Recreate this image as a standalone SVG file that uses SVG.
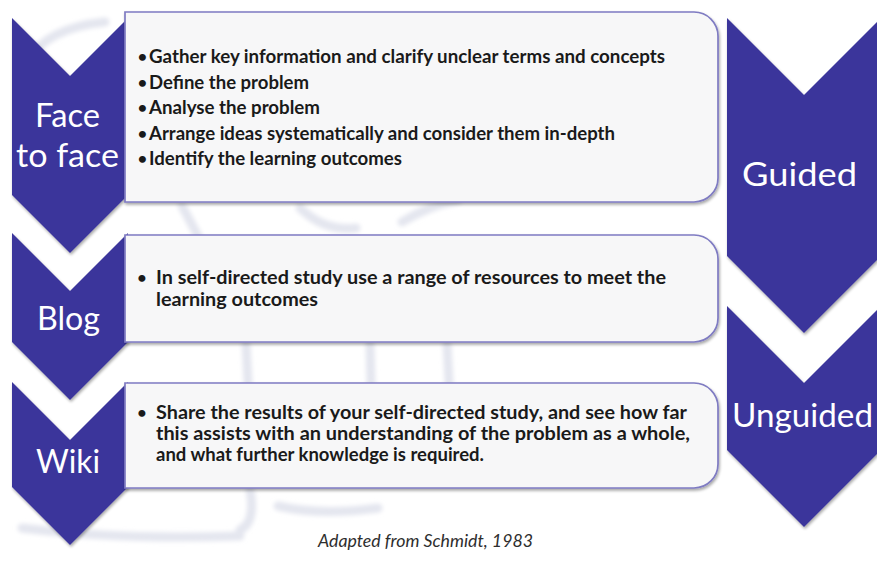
<svg xmlns="http://www.w3.org/2000/svg" width="877" height="561" viewBox="0 0 877 561">
  <defs>
    <filter id="shadow" x="-10%" y="-10%" width="125%" height="130%">
      <feGaussianBlur in="SourceAlpha" stdDeviation="1.6"/>
      <feOffset dx="0.5" dy="2" result="b"/>
      <feComponentTransfer><feFuncA type="linear" slope="0.35"/></feComponentTransfer>
      <feMerge><feMergeNode/><feMergeNode in="SourceGraphic"/></feMerge>
    </filter>
    <filter id="soft" x="-20%" y="-20%" width="140%" height="140%">
      <feGaussianBlur stdDeviation="2"/>
    </filter>
  </defs>
  <style>
    .chev { fill: #3a359b; }
    .box { fill: #f7f7f8; stroke: #7f7bc2; stroke-width: 1.7; }
    .label { font-family: Lato, "Liberation Sans", sans-serif; font-size: 32px; fill: #ffffff; }
    .item { font-family: Lato, "Liberation Sans", sans-serif; font-weight: 700; font-size: 18.5px; fill: #1a1a1a; }
    .dot { font-family: Lato, "Liberation Sans", sans-serif; font-weight: 700; font-size: 16px; fill: #1a1a1a; text-anchor: middle; }
    .caption { font-family: Lato, "Liberation Sans", sans-serif; font-style: italic; font-size: 16.5px; fill: #2e2e2e; }
    .mark { fill: none; stroke: #e4e6ef; stroke-width: 9; stroke-linecap: round; }
  </style>

  <rect width="877" height="561" fill="#ffffff"/>

  <!-- faint background emblem -->
  <g id="watermark" filter="url(#soft)">
    <path class="mark" d="M28,62 Q45,28 105,22"/>
    <path class="mark" d="M182,206 L198,236"/>
    <path class="mark" d="M300,208 Q325,232 356,228"/>
    <path class="mark" d="M402,222 Q430,205 458,200"/>
    <path class="mark" d="M246,344 L248,382"/>
    <path class="mark" d="M370,344 L371,382"/>
    <path class="mark" d="M447,344 L449,382"/>
    <path class="mark" d="M250,490 Q256,522 240,530"/>
    <path class="mark" d="M278,506 Q320,516 378,508"/>
    <path class="mark" d="M22,528 Q120,540 240,536"/>
  </g>

  <!-- left column: stage chevrons -->
  <g id="face-to-face">
    <path class="chev" filter="url(#shadow)" d="M12,18 L70,76 L128,18 L128,195 L70,253 L12,195 Z"/>
    <text class="label" x="35" y="127" textLength="65" lengthAdjust="spacingAndGlyphs">Face</text>
    <text class="label" x="16" y="167" textLength="103" lengthAdjust="spacingAndGlyphs">to face</text>
  </g>
  <g id="blog">
    <path class="chev" filter="url(#shadow)" d="M12,233 L70,291 L128,233 L128,342 L70,400 L12,342 Z"/>
    <text class="label" x="37" y="330" textLength="63" lengthAdjust="spacingAndGlyphs">Blog</text>
  </g>
  <g id="wiki">
    <path class="chev" filter="url(#shadow)" d="M12,382 L70,440 L128,382 L128,487 L70,545 L12,487 Z"/>
    <text class="label" x="36" y="473" textLength="64" lengthAdjust="spacingAndGlyphs">Wiki</text>
  </g>

  <!-- middle column: activity boxes -->
  <g id="box-face-to-face">
    <path class="box" filter="url(#shadow)" d="M125,12 H694 A24,24 0 0 1 718,36 V178 A24,24 0 0 1 694,202 H125 Z"/>
    <text class="dot" x="142.5" y="62">•</text>
    <text class="dot" x="142.5" y="87.5">•</text>
    <text class="dot" x="142.5" y="113">•</text>
    <text class="dot" x="142.5" y="138.5">•</text>
    <text class="dot" x="142.5" y="164">•</text>
    <g class="item">
      <text x="149" y="63" textLength="516" lengthAdjust="spacingAndGlyphs">Gather key information and clarify unclear terms and concepts</text>
      <text x="149" y="88.5" textLength="160" lengthAdjust="spacingAndGlyphs">Define the problem</text>
      <text x="149" y="114" textLength="171" lengthAdjust="spacingAndGlyphs">Analyse the problem</text>
      <text x="149" y="139.5" textLength="466" lengthAdjust="spacingAndGlyphs">Arrange ideas systematically and consider them in-depth</text>
      <text x="149" y="165" textLength="253" lengthAdjust="spacingAndGlyphs">Identify the learning outcomes</text>
    </g>
  </g>
  <g id="box-blog">
    <path class="box" filter="url(#shadow)" d="M125,235 H694 A24,24 0 0 1 718,259 V318 A24,24 0 0 1 694,342 H125 Z"/>
    <text class="dot" x="142" y="282.5">•</text>
    <g class="item">
      <text x="156" y="283.5" textLength="510" lengthAdjust="spacingAndGlyphs">In self-directed study use a range of resources to meet the</text>
      <text x="156" y="306" textLength="162" lengthAdjust="spacingAndGlyphs">learning outcomes</text>
    </g>
  </g>
  <g id="box-wiki">
    <path class="box" filter="url(#shadow)" d="M125,383 H694 A24,24 0 0 1 718,407 V464 A24,24 0 0 1 694,488 H125 Z"/>
    <text class="dot" x="142" y="418">•</text>
    <g class="item">
      <text x="156" y="419" textLength="531" lengthAdjust="spacingAndGlyphs">Share the results of your self-directed study, and see how far</text>
      <text x="156" y="440" textLength="534" lengthAdjust="spacingAndGlyphs">this assists with an understanding of the problem as a whole,</text>
      <text x="156" y="461" textLength="328" lengthAdjust="spacingAndGlyphs">and what further knowledge is required.</text>
    </g>
  </g>

  <!-- right column: guidance level -->
  <g id="guided">
    <path class="chev" filter="url(#shadow)" d="M727,18 L804,95 L881,18 L881,256 L804,333 L727,256 Z"/>
    <text class="label" x="742" y="186" textLength="115" lengthAdjust="spacingAndGlyphs">Guided</text>
  </g>
  <g id="unguided">
    <path class="chev" filter="url(#shadow)" d="M727,306 L804,383 L881,306 L881,450 L804,527 L727,450 Z"/>
    <text class="label" x="732" y="427" textLength="141" lengthAdjust="spacingAndGlyphs">Unguided</text>
  </g>

  <g id="connectors"/>

  <text class="caption" x="425.5" y="547" text-anchor="middle" textLength="215" lengthAdjust="spacingAndGlyphs">Adapted from Schmidt, 1983</text>
</svg>
